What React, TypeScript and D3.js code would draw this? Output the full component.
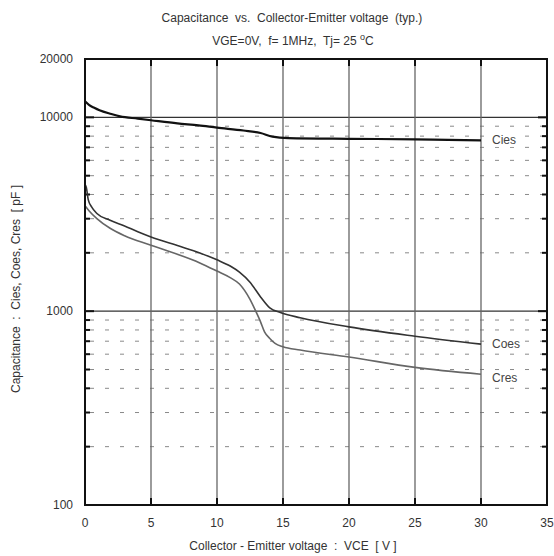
import React from "react";
import * as d3 from "d3";

const W = 554;
const H = 556;
const M = { left: 85, right: 547, top: 59, bottom: 505 };

const xTicks = [0, 5, 10, 15, 20, 25, 30, 35];
const yMajor = [100, 1000, 10000, 20000];
const yMinor = [200, 300, 400, 500, 600, 700, 800, 900, 2000, 3000, 4000, 5000, 6000, 7000, 8000, 9000];
const ySolid = [1000, 10000];

const ciesV = [0, 0.3, 0.7, 1.1, 2, 2.65, 4, 5, 7, 8.6, 10, 12, 13.3, 14.2, 15.4, 20, 25, 27.5, 30];
const ciesC = [12100, 11600, 11200, 10870, 10400, 10120, 9850, 9660, 9300, 9090, 8850, 8550, 8300, 7950, 7820, 7750, 7700, 7650, 7610];

const coesV = [0, 0.1, 0.25, 0.5, 0.9, 1.9, 3, 4, 5, 7, 8.7, 10, 11, 11.7, 12.5, 13.3, 14, 14.8, 16.3, 20, 25, 30];
const coesC = [4500, 4350, 3750, 3450, 3190, 2945, 2750, 2570, 2415, 2180, 1998, 1840, 1710, 1590, 1410, 1185, 1040, 985, 925, 830, 743, 676];

const cresV = [0, 0.3, 0.9, 1.9, 3, 5, 8.7, 10, 11, 11.7, 12.5, 12.9, 13.3, 13.6, 14, 14.4, 15, 16.3, 20, 25, 30];
const cresC = [3500, 3300, 3005, 2677, 2450, 2188, 1774, 1610, 1490, 1380, 1150, 1012, 881, 782, 723, 682, 655, 630, 580, 513, 473];

const seriesLabels = ["Cies", "Coes", "Cres"];

const FONT = "'Liberation Sans', Arial, sans-serif";

export default function App() {
  const x = d3.scaleLinear().domain([0, 35]).range([M.left, M.right]);
  const y = d3.scaleLog().domain([100, 20000]).range([M.bottom, M.top]);

  const line = d3
    .line<[number, number]>()
    .x((d) => x(d[0]))
    .y((d) => y(d[1]))
    .curve(d3.curveMonotoneX);

  const mk = (v: number[], c: number[]) => v.map((vv, i) => [vv, c[i]] as [number, number]);
  const series = [
    { label: seriesLabels[0], data: mk(ciesV, ciesC), color: "#111", width: 2.2 },
    { label: seriesLabels[1], data: mk(coesV, coesC), color: "#333", width: 1.6 },
    { label: seriesLabels[2], data: mk(cresV, cresC), color: "#666", width: 1.6 },
  ];

  const labelY = [y(7650) + 4, y(676) + 4, y(473) + 8];

  return (
    <svg
      width={W}
      height={H}
      style={{ position: "absolute", left: 0, top: 0, background: "#fff", fontFamily: FONT }}
    >
      {/* Title */}
      <text x={292} y={22} textAnchor="middle" fontSize={12} fill="#333" style={{ whiteSpace: "pre" }}>
        {"Capacitance  vs.  Collector-Emitter voltage  (typ.)"}
      </text>
      <text x={293} y={45} textAnchor="middle" fontSize={12} fill="#333" style={{ whiteSpace: "pre" }}>
        {"VGE=0V,  f= 1MHz,  Tj= 25 "}
        <tspan dy={-5} fontSize={9}>o</tspan>
        <tspan dy={5}>C</tspan>
      </text>

      {/* Minor dotted grid */}
      {yMinor.map((v) => (
        <line
          key={"mg" + v}
          x1={M.left}
          x2={M.right}
          y1={y(v)}
          y2={y(v)}
          stroke="#8a8a8a"
          strokeWidth={1}
          strokeDasharray="4,11"
          strokeDashoffset={-5}
        />
      ))}
      {/* Solid horizontal grid */}
      {ySolid.map((v) => (
        <line key={"sg" + v} x1={M.left} x2={M.right} y1={y(v)} y2={y(v)} stroke="#333" strokeWidth={1.2} />
      ))}
      {/* Vertical grid */}
      {xTicks.slice(1, -1).map((v) => (
        <g key={"vg" + v}>
          <line x1={x(v)} x2={x(v)} y1={M.top} y2={M.bottom} stroke="#666" strokeWidth={1.3} />
          <line x1={x(v)} x2={x(v)} y1={M.top} y2={M.top + 7} stroke="#111" strokeWidth={2} />
          <line x1={x(v)} x2={x(v)} y1={M.bottom - 7} y2={M.bottom} stroke="#111" strokeWidth={2} />
        </g>
      ))}
      {/* Minor ticks left and right */}
      {yMinor.map((v) => (
        <g key={"mt" + v}>
          <line x1={M.left} x2={M.left + 5} y1={y(v)} y2={y(v)} stroke="#111" strokeWidth={2} />
          <line x1={M.right - 5} x2={M.right} y1={y(v)} y2={y(v)} stroke="#111" strokeWidth={2} />
        </g>
      ))}
      {ySolid.map((v) => (
        <g key={"jt" + v}>
          <line x1={M.left} x2={M.left + 9} y1={y(v)} y2={y(v)} stroke="#111" strokeWidth={2} />
          <line x1={M.right - 9} x2={M.right} y1={y(v)} y2={y(v)} stroke="#111" strokeWidth={2} />
        </g>
      ))}

      {/* Curves */}
      {series.map((s) => (
        <path key={s.label} d={line(s.data) || ""} fill="none" stroke={s.color} strokeWidth={s.width} />
      ))}

      {/* Series labels */}
      {series.map((s, i) => (
        <g key={"lb" + s.label}>
          <rect x={490} y={labelY[i] - 11} width={28} height={14} fill="#fff" />
          <text x={492} y={labelY[i]} fontSize={12} fill="#444">
            {s.label}
          </text>
        </g>
      ))}

      {/* Frame */}
      <rect
        x={M.left}
        y={M.top}
        width={M.right - M.left}
        height={M.bottom - M.top}
        fill="none"
        stroke="#111"
        strokeWidth={2}
      />

      {/* Y tick labels */}
      {yMajor.map((v) => (
        <text key={"yl" + v} x={73} y={y(v) + 4} textAnchor="end" fontSize={12} fill="#333">
          {v}
        </text>
      ))}
      {/* X tick labels */}
      {xTicks.map((v) => (
        <text key={"xl" + v} x={x(v)} y={527} textAnchor="middle" fontSize={12} fill="#333">
          {v}
        </text>
      ))}

      {/* Axis titles */}
      <text x={293} y={550} textAnchor="middle" fontSize={12} fill="#333" style={{ whiteSpace: "pre" }}>
        {"Collector - Emitter voltage  :  VCE  [ V ]"}
      </text>
      <text
        transform={`translate(20, ${289}) rotate(-90)`}
        textAnchor="middle"
        fontSize={12}
        fill="#333"
        style={{ whiteSpace: "pre" }}
      >
        {"Capacitance  :  Cies, Coes, Cres  [ pF ]"}
      </text>
    </svg>
  );
}
